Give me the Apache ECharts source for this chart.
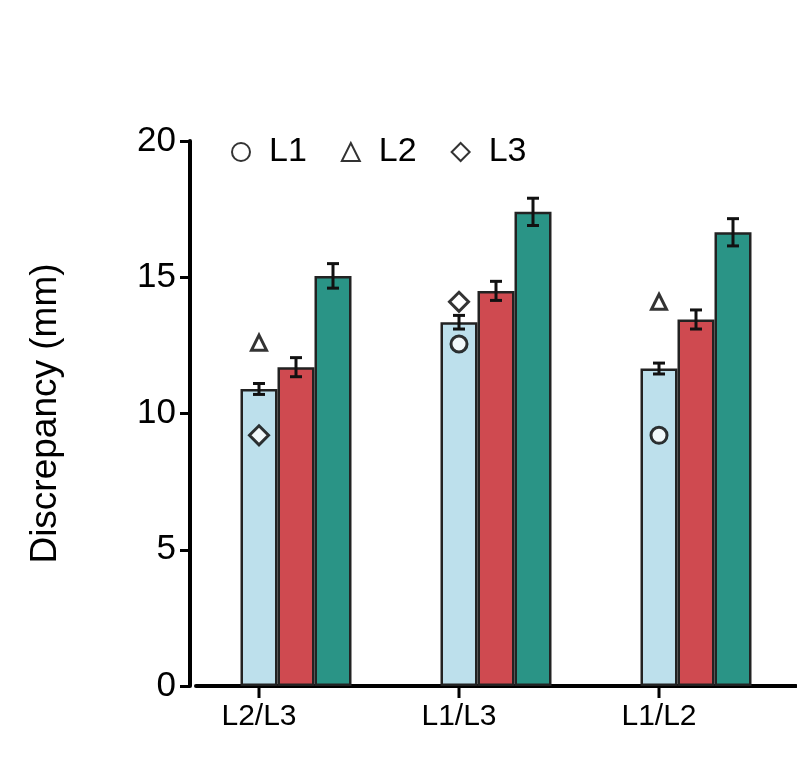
<!DOCTYPE html>
<html lang="en">
<head>
<meta charset="UTF-8">
<title>Discrepancy</title>
<script src="https://cdn.jsdelivr.net/npm/echarts@6/dist/echarts.min.js"></script>
<style>body{margin:0;background:#fff}</style>
</head>
<body>
<div id="main" style="width:797px;height:782px;"></div>
<script>
const categories = ['L2/L3', 'L1/L3', 'L1/L2'];
const blueVals = [10.9, 13.35, 11.65];
const blueErr = [0.2, 0.25, 0.2];
const redVals = [11.7, 14.5, 13.45];
const redErr = [0.35, 0.35, 0.35];
const tealVals = [15.05, 17.4, 16.65];
const tealErr = [0.45, 0.5, 0.5];
// individual points, [categoryIndex, value]
const l1Points = [[1, 12.55], [2, 9.2]];
const l2Points = [[0, 12.6], [2, 14.1]];
const l3Points = [[0, 9.2], [1, 14.1]];

const BW = 37;
const font = 'Liberation Sans, Arial, sans-serif';

let chart = echarts.init(document.getElementById('main'));

function errData(vals, errs, off) {
    return vals.map((v, i) => [i, v, errs[i], off]);
}

function errItem(params, api) {
    let i = api.value(0), v = api.value(1), e = api.value(2), off = api.value(3);
    let top = api.coord([i, v + e]);
    let bot = api.coord([i, v - e]);
    let x = top[0] + off;
    let st = {stroke: '#111', lineWidth: 3};
    return {
        type: 'group',
        children: [
            {type: 'line', shape: {x1: x, y1: top[1], x2: x, y2: bot[1]}, style: st},
            {type: 'line', shape: {x1: x - 6, y1: top[1], x2: x + 6, y2: top[1]}, style: st},
            {type: 'line', shape: {x1: x - 6, y1: bot[1], x2: x + 6, y2: bot[1]}, style: st}
        ]
    };
}

function tickItem(params, api) {
    let p = api.coord([api.value(0), 0]);
    let x = p[0] - BW;
    return {type: 'line', shape: {x1: x, y1: p[1], x2: x, y2: p[1] + 12}, style: {stroke: '#000', lineWidth: 3}};
}

function scatter(name, data, symbol, size) {
    return {
        name: name, type: 'scatter', data: data, symbol: symbol, symbolSize: size,
        symbolOffset: [-BW, 0], z: 5,
        itemStyle: {color: '#fff', borderColor: '#000', borderWidth: 3}
    };
}

let barStyle = c => ({color: c, borderColor: '#222', borderWidth: 2.5});

chart.setOption({
    animation: false,
    grid: {left: 196, right: 1, top: 141, bottom: 96},
    legend: {
        top: 130, left: 226, itemGap: 34, itemWidth: 18, itemHeight: 18,
        textStyle: {fontSize: 34, fontFamily: font, color: '#000', padding: [0, 0, 0, 14]},
        data: ['L1', 'L2', 'L3']
    },
    xAxis: {
        type: 'category', data: categories,
        axisLine: {lineStyle: {color: '#000', width: 4}},
        axisTick: {show: false},
        axisLabel: {fontSize: 30, fontFamily: font, color: '#000', margin: 16, padding: [0, 2 * BW, 0, 0]}
    },
    yAxis: {
        type: 'value', min: 0, max: 20, interval: 5, offset: 6,
        name: 'Discrepancy (mm)', nameLocation: 'middle', nameGap: 126,
        nameTextStyle: {fontSize: 37, fontFamily: font, color: '#000'},
        splitLine: {show: false},
        axisLine: {show: true, lineStyle: {color: '#000', width: 4}},
        axisTick: {show: true, length: 10, lineStyle: {color: '#000', width: 3}},
        axisLabel: {fontSize: 35, fontFamily: font, color: '#000', margin: 14}
    },
    series: [
        {type: 'bar', data: blueVals, barWidth: BW, barGap: '0%', itemStyle: barStyle('#bde0ec')},
        {type: 'bar', data: redVals, barWidth: BW, barGap: '0%', itemStyle: barStyle('#cf4a50')},
        {type: 'bar', data: tealVals, barWidth: BW, barGap: '0%', itemStyle: barStyle('#2a9486')},
        {type: 'custom', renderItem: errItem, data: errData(blueVals, blueErr, -BW), z: 4},
        {type: 'custom', renderItem: errItem, data: errData(redVals, redErr, 0), z: 4},
        {type: 'custom', renderItem: errItem, data: errData(tealVals, tealErr, BW), z: 4},
        {type: 'custom', renderItem: tickItem, data: categories.map((c, i) => [i]), clip: false},
        scatter('L1', l1Points, 'circle', 16),
        scatter('L2', l2Points, 'triangle', 15),
        scatter('L3', l3Points, 'diamond', 19)
    ]
});
</script>
</body>
</html>
